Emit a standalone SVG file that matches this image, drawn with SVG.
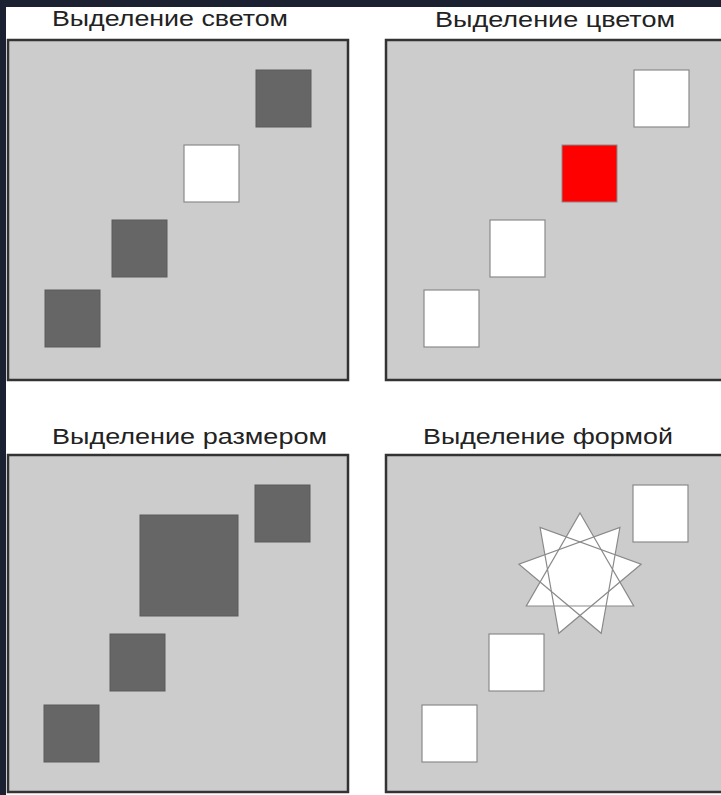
<svg xmlns="http://www.w3.org/2000/svg" width="721" height="795" viewBox="0 0 721 795">
<defs>
<style>
.panel{fill:#cccccc;stroke:#333333;stroke-width:2.5}
.dark{fill:#666666;stroke:#5a5a5a;stroke-width:1}
.white{fill:#ffffff;stroke:#8a8a8a;stroke-width:1.2}
.red{fill:#ff0000;stroke:#8a8a8a;stroke-width:1}
.title{font-family:"Liberation Sans",Arial,sans-serif;font-size:22px;fill:#222222;text-anchor:start}
.tri{fill:#ffffff;stroke:none}
.triline{fill:none;stroke:#8a8a8a;stroke-width:1.2;stroke-linejoin:miter}
</style>
</defs>
<rect x="0" y="0" width="721" height="795" fill="#ffffff"/>
<rect x="0" y="0" width="721" height="7" fill="#1b2130"/>
<rect x="0" y="0" width="6" height="795" fill="#1b2130"/>

<g id="panel-light">
<text class="title" x="52" y="26" textLength="236" lengthAdjust="spacingAndGlyphs">Выделение светом</text>
<rect class="panel" x="8" y="40" width="340" height="340"/>
<rect class="dark" x="256" y="70" width="55" height="57"/>
<rect class="white" x="184" y="145" width="55" height="57"/>
<rect class="dark" x="112" y="220" width="55" height="57"/>
<rect class="dark" x="45" y="290" width="55" height="57"/>
</g>

<g id="panel-color">
<text class="title" x="435" y="27" textLength="240" lengthAdjust="spacingAndGlyphs">Выделение цветом</text>
<rect class="panel" x="386" y="40" width="340" height="340"/>
<rect class="white" x="634" y="70" width="55" height="57"/>
<rect class="red" x="562" y="145" width="55" height="57"/>
<rect class="white" x="490" y="220" width="55" height="57"/>
<rect class="white" x="424" y="290" width="55" height="57"/>
</g>

<g id="panel-size">
<text class="title" x="52" y="444" textLength="275" lengthAdjust="spacingAndGlyphs">Выделение размером</text>
<rect class="panel" x="8" y="455" width="340" height="337"/>
<rect class="dark" x="255" y="485" width="55" height="57"/>
<rect class="dark" x="140" y="515" width="98" height="101"/>
<rect class="dark" x="110" y="634" width="55" height="57"/>
<rect class="dark" x="44" y="705" width="55" height="57"/>
</g>

<g id="panel-shape">
<text class="title" x="423" y="444" textLength="250" lengthAdjust="spacingAndGlyphs">Выделение формой</text>
<rect class="panel" x="386" y="455" width="340" height="337"/>
<rect class="white" x="633" y="485" width="55" height="57"/>
<g id="star">
<polygon class="tri" points="580,513 633.7,606 526.3,606"/>
<polygon class="tri" points="619.9,527.5 601.2,633.3 518.9,564.2"/>
<polygon class="tri" points="641.1,564.2 558.8,633.3 540.1,527.5"/>
<polygon class="triline" points="580,513 633.7,606 526.3,606"/>
<polygon class="triline" points="619.9,527.5 601.2,633.3 518.9,564.2"/>
<polygon class="triline" points="641.1,564.2 558.8,633.3 540.1,527.5"/>
</g>
<rect class="white" x="489" y="634" width="55" height="57"/>
<rect class="white" x="422" y="705" width="55" height="57"/>
</g>
</svg>
